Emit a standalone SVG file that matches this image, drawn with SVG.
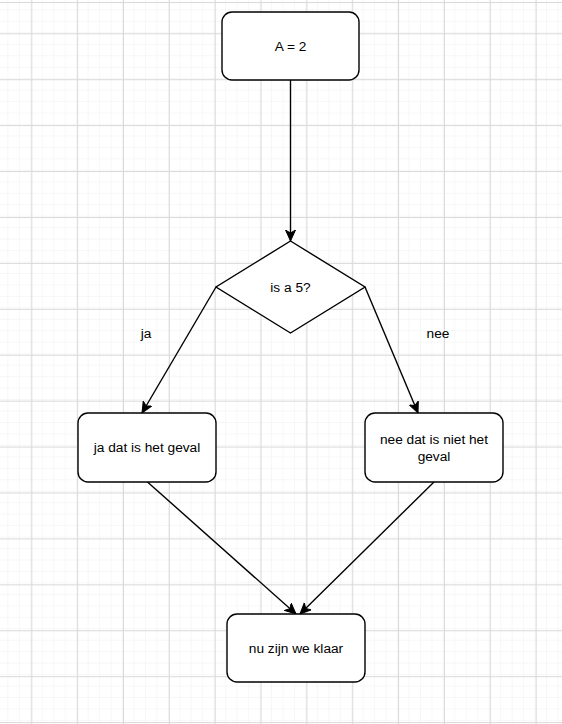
<svg xmlns="http://www.w3.org/2000/svg" width="562" height="724" viewBox="0 0 562 724">
  <defs>
    <pattern id="minor" x="31.3" y="33.3" width="11.46" height="11.46" patternUnits="userSpaceOnUse">
      <path d="M11.46 0 V11.46 M0 11.46 H11.46" fill="none" stroke="#f0f0f0" stroke-width="1"/>
    </pattern>
    <pattern id="major" x="31.3" y="33.3" width="45.85" height="45.92" patternUnits="userSpaceOnUse">
      <path d="M0.5 0 V45.92 M0 0.5 H45.85" fill="none" stroke="#d9d9d9" stroke-width="1"/>
    </pattern>
    <marker id="arrow" markerUnits="userSpaceOnUse" markerWidth="14" markerHeight="12" refX="11" refY="5" orient="auto">
      <path d="M0,0 L11,5 L0,10 L3,5 Z" fill="#000" stroke="#000" stroke-width="1"/>
    </marker>
    <style>
      .box { fill: #fff; stroke: #000; stroke-width: 1.4; }
      .edge { fill: none; stroke: #000; stroke-width: 1.4; marker-end: url(#arrow); }
      text { font-family: "Liberation Sans", Arial, sans-serif; font-size: 13.7px; fill: #000; text-anchor: middle; dominant-baseline: central; }
    </style>
  </defs>

  <!-- background grid -->
  <rect width="562" height="724" fill="#fff"/>
  <rect width="562" height="724" fill="url(#minor)"/>
  <rect width="562" height="724" fill="url(#major)"/>
  <line x1="0" y1="2.5" x2="562" y2="2.5" stroke="#d9d9d9" stroke-width="1"/>

  <!-- connectors -->
  <g id="connectors">
    <line class="edge" x1="290.5" y1="80" x2="290.5" y2="241"/>
    <line class="edge" x1="216" y1="287" x2="142" y2="413"/>
    <line class="edge" x1="365" y1="287" x2="418" y2="413"/>
    <line class="edge" x1="147.5" y1="482" x2="296" y2="614"/>
    <line class="edge" x1="434" y1="482" x2="300" y2="614"/>
    <text x="146" y="333">ja</text>
    <text x="438" y="333">nee</text>
  </g>

  <g id="start">
    <rect class="box" x="222" y="12" width="137" height="68" rx="10"/>
    <text x="290.5" y="46">A = 2</text>
  </g>

  <g id="decision">
    <polygon class="box" points="290.5,241 365,287 290.5,333 216,287"/>
    <text x="290.5" y="287">is a 5?</text>
  </g>

  <g id="yes">
    <rect class="box" x="78" y="413" width="138" height="69" rx="10"/>
    <text x="147" y="447">ja dat is het geval</text>
  </g>

  <g id="no">
    <rect class="box" x="365" y="413" width="138" height="69" rx="10"/>
    <text x="434" y="439">nee dat is niet het</text>
    <text x="434" y="456">geval</text>
  </g>

  <g id="end">
    <rect class="box" x="227" y="614" width="138" height="68" rx="10"/>
    <text x="296" y="648">nu zijn we klaar</text>
  </g>
</svg>
